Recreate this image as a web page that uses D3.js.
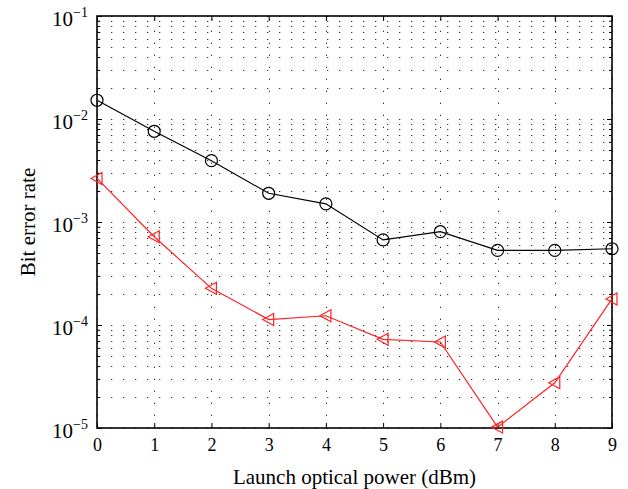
<!DOCTYPE html>
<html>
<head>
<meta charset="utf-8">
<script src="https://cdn.jsdelivr.net/npm/d3@7/dist/d3.min.js"></script>
<style>
  body { margin: 0; background: #fff; }
  text { font-family: "Liberation Serif", "DejaVu Serif", serif; fill: #000; }
</style>
</head>
<body>
<script>
let width = 628
let height = 489

// launch power (dBm)
let power = [0, 1, 2, 3, 4, 5, 6, 7, 8, 9]
// BER, circle series (black)
let berBlack = [1.52e-2, 7.6e-3, 3.94e-3, 1.9e-3, 1.5e-3, 6.7e-4, 8.05e-4, 5.3e-4, 5.3e-4, 5.5e-4]
// BER, triangle series (red)
let berRed = [2.65e-3, 7.2e-4, 2.27e-4, 1.13e-4, 1.23e-4, 7.26e-5, 6.84e-5, 1.02e-5, 2.75e-5, 1.79e-4]

let yMajor = [1e-5, 1e-4, 1e-3, 1e-2, 1e-1]
let yMajorLabels = ["−5", "−4", "−3", "−2", "−1"]

let plotL = 97, plotR = 612, plotT = 16, plotB = 428

let x = d3.scaleLinear().domain([0, 9]).range([plotL, plotR])
let y = d3.scaleLog().domain([1e-5, 1e-1]).range([plotB, plotT])

let svg = d3.select('body').append('svg')
    .attr('width', width)
    .attr('height', height)

// grid
let grid = svg.append('g')
    .attr('stroke', '#333')
    .attr('stroke-width', 1)
    .attr('stroke-dasharray', '1.3,10.7')

grid.selectAll('.hgrid')
    .data(y.ticks())
    .enter().append('line')
    .attr('x1', plotL + 2).attr('x2', plotR)
    .attr('y1', d => Math.round(y(d)) + 0.5)
    .attr('y2', d => Math.round(y(d)) + 0.5)

grid.selectAll('.vgrid')
    .data(x.ticks(9))
    .enter().append('line')
    .attr('x1', d => Math.round(x(d)) + 0.5)
    .attr('x2', d => Math.round(x(d)) + 0.5)
    .attr('y1', plotB).attr('y2', plotT)

// axes (ticks inward)
svg.append('g')
    .attr('transform', 'translate(0,' + plotB + ')')
    .call(d3.axisBottom(x).ticks(9).tickSize(-5).tickSizeOuter(0).tickPadding(10))
    .call(g => g.select('.domain').remove())
    .call(g => g.selectAll('line').attr('stroke', '#000'))
    .call(g => g.selectAll('text')
        .style('font-family', '"Liberation Serif", serif')
        .style('font-size', '18px'))

svg.append('g')
    .attr('transform', 'translate(0,' + plotT + ')')
    .call(d3.axisTop(x).ticks(9).tickSize(-5).tickSizeOuter(0).tickFormat(''))
    .call(g => g.select('.domain').remove())

let minor = y.ticks().filter(d => yMajor.indexOf(d) < 0)

svg.append('g')
    .attr('transform', 'translate(' + plotL + ',0)')
    .call(d3.axisLeft(y).tickValues(yMajor).tickSize(-5).tickSizeOuter(0).tickFormat(''))
    .call(g => g.select('.domain').remove())
svg.append('g')
    .attr('transform', 'translate(' + plotL + ',0)')
    .call(d3.axisLeft(y).tickValues(minor).tickSize(-3).tickSizeOuter(0).tickFormat(''))
    .call(g => g.select('.domain').remove())
svg.append('g')
    .attr('transform', 'translate(' + plotR + ',0)')
    .call(d3.axisRight(y).tickValues(yMajor).tickSize(-5).tickSizeOuter(0).tickFormat(''))
    .call(g => g.select('.domain').remove())
svg.append('g')
    .attr('transform', 'translate(' + plotR + ',0)')
    .call(d3.axisRight(y).tickValues(minor).tickSize(-3).tickSizeOuter(0).tickFormat(''))
    .call(g => g.select('.domain').remove())

// y tick labels 10^n
let ylab = svg.selectAll('.ylab')
    .data(yMajor)
    .enter().append('text')
    .attr('class', 'ylab')
    .attr('x', 88)
    .attr('y', d => y(d) + 10)
    .attr('text-anchor', 'end')
ylab.append('tspan').style('font-size', '21px').text('10')
ylab.append('tspan').style('font-size', '14px').attr('dy', -9).text((d, i) => yMajorLabels[i])

// box
svg.append('rect')
    .attr('x', plotL).attr('y', plotT)
    .attr('width', plotR - plotL).attr('height', plotB - plotT)
    .attr('fill', 'none')
    .attr('stroke', '#000')
    .attr('stroke-width', 1.6)

// series
let line = d3.line()
    .x((d, i) => x(power[i]))
    .y(d => y(d))

svg.append('path')
    .datum(berBlack)
    .attr('d', line)
    .attr('fill', 'none')
    .attr('stroke', '#000')
    .attr('stroke-width', 1.2)

svg.selectAll('.circ')
    .data(berBlack)
    .enter().append('circle')
    .attr('cx', (d, i) => x(power[i]))
    .attr('cy', d => y(d))
    .attr('r', 6)
    .attr('fill', 'none')
    .attr('stroke', '#000')
    .attr('stroke-width', 1.2)

svg.append('path')
    .datum(berRed)
    .attr('d', line)
    .attr('fill', 'none')
    .attr('stroke', '#f22')
    .attr('stroke-width', 1.2)

svg.selectAll('.tri')
    .data(berRed)
    .enter().append('path')
    .attr('transform', (d, i) => 'translate(' + x(power[i]) + ',' + y(d) + ')')
    .attr('d', 'M-6,0L5,-6L5,6Z')
    .attr('fill', 'none')
    .attr('stroke', '#f22')
    .attr('stroke-width', 1.2)

// axis labels
svg.append('text')
    .attr('x', (plotL + plotR) / 2)
    .attr('y', 484)
    .attr('text-anchor', 'middle')
    .style('font-size', '21px')
    .text('Launch optical power (dBm)')

svg.append('text')
    .attr('transform', 'translate(35,' + (plotT + plotB) / 2 + ') rotate(-90)')
    .attr('text-anchor', 'middle')
    .style('font-size', '21px')
    .text('Bit error rate')
</script>
</body>
</html>
